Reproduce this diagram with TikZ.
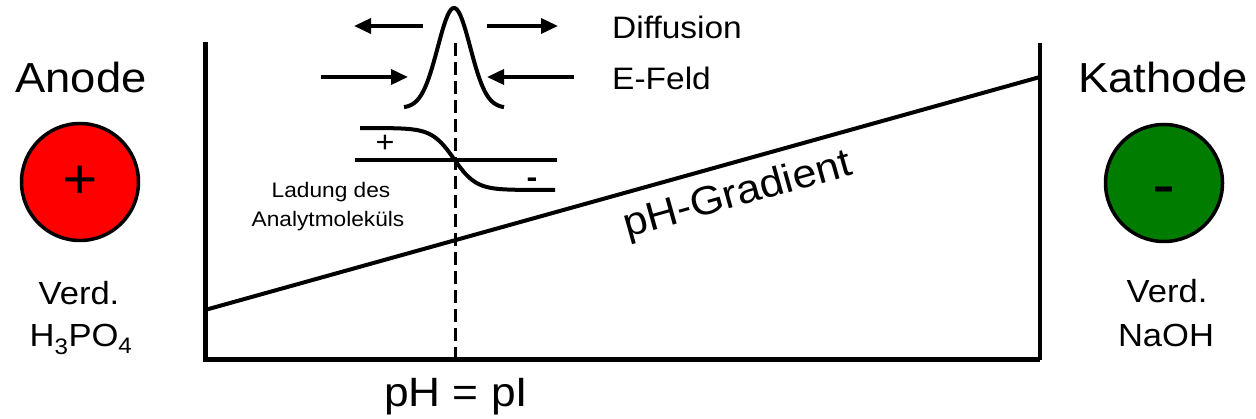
\documentclass[tikz,border=0pt]{standalone}
\usepackage{fontspec}
\setmainfont{Liberation Sans}[FakeStretch=1.08]
\usetikzlibrary{arrows.meta}
\definecolor{anodered}{RGB}{255,0,0}
\definecolor{kathgreen}{RGB}{0,125,0}
\newcommand\fsz[1]{\fontsize{#1}{#1}\selectfont}
\begin{document}
\begin{tikzpicture}[x=1pt,y=-1pt,
  axisline/.style={line width=5pt, line join=miter},
  thinline/.style={line width=3.5pt},
  curveline/.style={line width=4pt, line join=round},
  arr/.style={line width=3.6pt, -{Triangle[length=17pt,width=15pt]}},
  electrode/.style={circle, draw, line width=3.5pt, minimum size=117pt, inner sep=0pt},
  bigtext/.style={inner sep=0pt, anchor=base, font=\fsz{42}},
  midtext/.style={inner sep=0pt, anchor=base, font=\fsz{32}},
  smalltext/.style={inner sep=0pt, anchor=base, font=\fsz{21}},
  signtext/.style={inner sep=0pt, font=\fsz{56}},
]
\useasboundingbox (0,0) rectangle (1256,419);
\fill[white] (0,0) rectangle (1256,419);

% axes
\coordinate (tl) at (205,42);
\coordinate (bl) at (205,360);
\coordinate (br) at (1040,360);
\coordinate (tr) at (1040,43);
\draw[axisline] (tl) -- (bl) -- (br);
\draw[thinline] (br) -- (tr);

% pH gradient
\coordinate (g1) at (205,310);
\coordinate (g2) at (1040,77);
\draw[curveline] (g1) -- (g2);
\node[inner sep=0pt, font=\fsz{40}, rotate=15.6] (grad) at (738,196) {pH-Gradient};

% dashed pI line
\coordinate (d1) at (455,43);
\coordinate (d2) at (455,359);
\draw[line width=3pt, dash pattern=on 13pt off 6pt] (d1) -- (d2);
\node[bigtext, font=\fsz{41}] (phpi) at (456,407) {pH = pI};

% peak
\draw[curveline] plot[domain=-50:50, samples=80] ({454+\x},{108-100*exp(-(\x/23)^2)});

% arrows
\coordinate (dl1) at (423,26); \coordinate (dl2) at (354,26);
\coordinate (dr1) at (487,26); \coordinate (dr2) at (558,26);
\coordinate (el1) at (321,77); \coordinate (el2) at (408,77);
\coordinate (er1) at (574,77); \coordinate (er2) at (487,77);
\draw[arr] (dl1) -- (dl2);
\draw[arr] (dr1) -- (dr2);
\draw[arr] (el1) -- (el2);
\draw[arr] (er1) -- (er2);
\node[midtext, anchor=base west, font=\fsz{31}] (diff) at (612,39) {Diffusion};
\node[midtext, anchor=base west, font=\fsz{31}] (efeld) at (612,90) {E-Feld};

% charge curve
\coordinate (c1) at (355,160); \coordinate (c2) at (557,160);
\draw[curveline] (c1) -- (c2);
\draw[curveline] plot[domain=360:555, samples=80] (\x,{159+31*tanh((\x-454)/22)});
\node[smalltext, font=\fsz{30}] (plus) at (385,153) {+};
\node[smalltext, font=\fsz{30}\bfseries] (minus) at (532,188) {-};
\node[smalltext] (lad1) at (331,198) {Ladung des};
\node[smalltext] (lad2) at (328,227) {Analytmoleküls};

% anode
\node[bigtext] (anode) at (81,93) {Anode};
\node[electrode, fill=anodered] (acirc) at (80,182) {};
\node[signtext] (aplus) at (acirc.center) {+};
\node[midtext] (averd) at (79,305) {Verd.};
\node[midtext] (aacid) at (81,347) {H\textsubscript{3}PO\textsubscript{4}};

% kathode
\node[bigtext] (kath) at (1163,93) {Kathode};
\node[electrode, fill=kathgreen] (kcirc) at (1164,183) {};
\node[signtext, font=\fsz{64}] (kminus) at ([yshift=-14pt]kcirc.center) {-};
\node[midtext] (kverd) at (1167,303) {Verd.};
\node[midtext] (kbase) at (1166,347) {NaOH};
\end{tikzpicture}
\end{document}
